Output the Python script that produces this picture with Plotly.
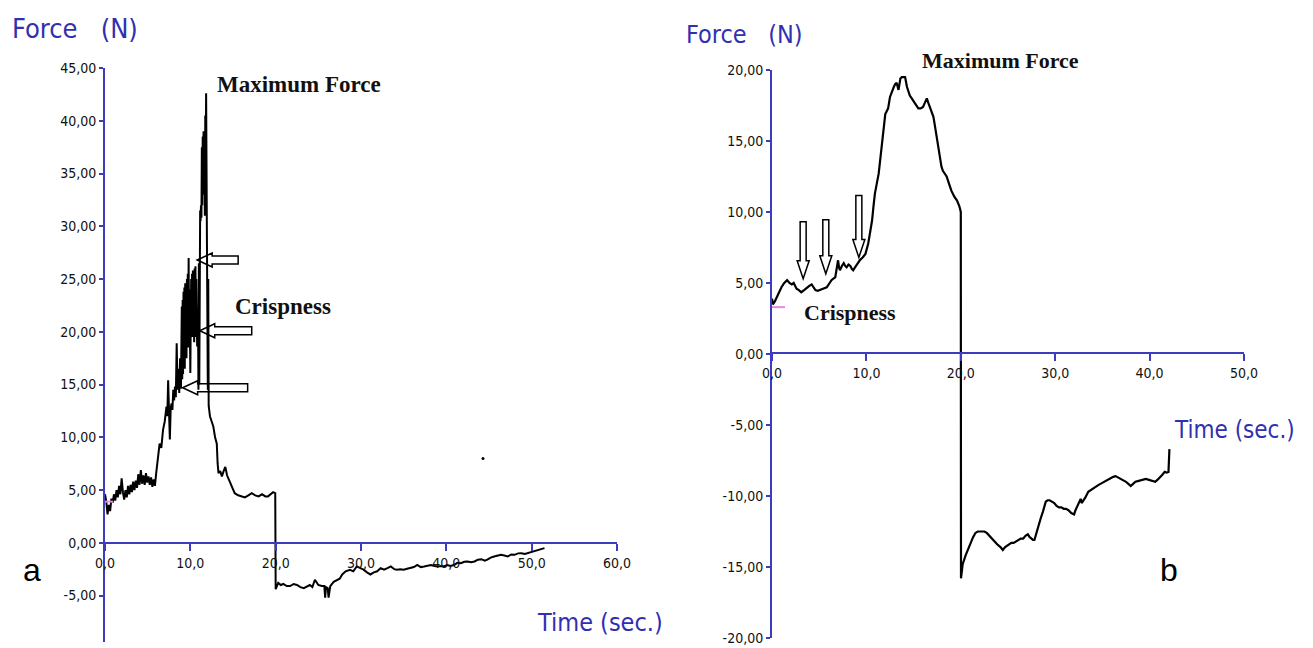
import plotly.graph_objects as go

# ---------------- data ----------------
left_time = [0.0,0.15,0.3,0.45,0.6,0.75,0.9,1.05,1.2,1.35,1.5,1.65,1.8,1.95,2.1,2.25,2.4,2.55,2.7,2.85,
             3.0,3.15,3.3,3.45,3.6,3.75,3.9,4.05,4.2,4.35,4.5,4.65,4.8,4.95,5.1,5.25,5.4,5.55,5.7,5.85,
             6.0,6.2,6.4,6.6,6.8,7.0,7.2,7.3,7.4,7.5,7.6,7.7,7.8,7.9,8.0,8.1,8.2,8.3,8.4,8.5,8.6,8.7,8.8,8.9,
             9.0,9.05,9.1,9.15,9.2,9.25,9.3,9.35,9.4,9.45,9.5,9.55,9.6,9.65,9.7,9.75,9.8,9.85,9.9,9.95,
             10.0,10.05,10.1,10.15,10.2,10.25,10.3,10.35,10.4,10.45,10.5,10.55,10.6,10.65,10.7,10.8,10.9,10.95,
             11.0,11.05,11.1,11.15,11.2,11.25,11.3,11.35,11.4,11.45,11.5,11.55,11.6,11.65,11.7,11.75,11.8,11.85,
             11.9,11.95,12.05,12.1,12.15,12.3,12.5,12.7,12.9,13.1,13.2,13.3,13.5,13.7,13.9,14.1,14.3,14.5,14.7,14.9,
             15.2,15.6,16.0,16.4,16.8,17.2,17.6,18.0,18.4,18.8,19.1,19.4,19.7,19.95,
             20.0,20.3,20.6,20.9,21.3,21.7,22.1,22.5,22.9,23.3,23.7,24.0,24.3,24.6,25.0,25.4,25.7,25.8,25.9,26.1,
             26.2,26.3,26.4,26.8,27.2,27.5,27.8,28.2,28.7,29.1,29.5,29.9,30.3,30.7,31.1,31.5,31.9,32.3,32.7,33.1,
             33.5,33.9,34.2,34.6,35.0,35.4,35.8,36.2,36.6,37.0,37.4,37.8,38.2,38.6,39.0,39.4,39.7,40.1,40.5,40.9,
             41.3,41.7,42.1,42.5,42.9,43.3,43.7,44.1,44.5,44.8,45.2,45.6,46.0,46.4,46.8,47.2,47.6,48.0,48.4,48.8,
             49.2,49.5,49.9,50.3,50.6,50.9,51.2,51.5]
left_force = [4.6,3.9,2.7,3.6,3.0,4.2,3.8,4.6,4.0,5.0,4.3,5.4,4.6,6.1,4.8,4.1,5.0,4.3,5.4,4.6,
              5.5,4.8,5.8,5.0,5.9,5.2,6.5,5.5,6.9,5.6,6.4,5.5,6.6,5.7,6.3,5.5,6.2,5.3,6.0,5.4,
              6.6,7.8,9.4,9.0,10.7,11.5,12.9,12.0,15.4,12.5,9.8,12.8,13.2,12.6,14.5,13.5,14.8,13.8,18.9,14.5,16.5,14.2,17.5,14.6,
              22.4,15.5,23.0,16.0,23.8,17.0,24.2,16.5,24.6,18.0,23.5,17.5,25.0,19.0,25.5,18.5,27.0,19.5,24.0,20.0,
              16.1,21.0,25.0,20.0,25.5,19.5,25.8,20.5,25.5,19.0,26.0,20.0,26.2,19.5,25.0,18.6,22.0,14.5,
              26.5,15.0,29.0,31.5,30.5,32.0,30.8,37.5,32.0,38.5,33.0,39.0,34.0,39.0,31.0,40.5,35.0,42.6,
              30.0,28.0,14.5,25.0,13.0,12.0,11.5,11.0,10.0,9.4,7.5,6.6,6.8,6.3,6.8,7.2,6.4,6.0,5.6,5.2,
              4.7,4.5,4.4,4.3,4.5,4.7,4.5,4.4,4.6,4.4,4.4,4.6,4.8,4.7,
              -4.4,-3.8,-4.0,-3.9,-4.1,-4.1,-3.9,-4.0,-4.2,-4.3,-4.1,-4.0,-4.2,-3.5,-4.0,-4.1,-4.1,-5.2,-4.2,-4.3,
              -5.2,-4.4,-4.1,-3.7,-3.5,-3.4,-3.0,-2.7,-2.55,-2.7,-2.24,-2.4,-2.55,-2.8,-3.0,-2.8,-2.7,-2.4,-2.55,-2.4,
              -2.24,-2.5,-2.55,-2.5,-2.55,-2.45,-2.4,-2.3,-2.1,-2.3,-2.24,-2.2,-2.1,-2.2,-2.24,-2.2,-2.24,-2.1,-2.2,-2.1,
              -1.9,-1.93,-1.8,-1.77,-1.85,-1.77,-1.6,-1.55,-1.7,-1.6,-1.4,-1.3,-1.25,-1.14,-1.2,-1.3,-1.1,-1.14,-1.0,-0.98,
              -1.05,-0.98,-0.9,-0.82,-0.7,-0.66,-0.55,-0.5]

right_time = [0.0,0.1,0.3,0.5,0.75,1.0,1.3,1.6,1.85,2.1,2.3,2.6,2.85,3.1,3.4,3.7,3.95,4.2,4.4,4.6,4.85,
              5.1,5.4,5.8,6.05,6.3,6.5,6.7,6.85,7.0,7.1,7.2,7.4,7.6,7.75,7.9,8.1,8.3,8.45,8.6,8.9,9.1,9.3,
              9.6,9.9,10.2,10.4,10.6,10.75,10.9,11.1,11.3,11.45,11.6,11.8,12.0,12.15,12.3,12.5,12.7,12.9,13.05,
              13.2,13.4,13.6,13.75,14.1,14.3,14.45,14.6,14.8,15.0,15.25,15.5,15.75,16.0,16.2,16.4,16.55,16.7,
              16.9,17.1,17.25,17.4,17.6,17.8,17.95,18.1,18.3,18.5,18.75,19.0,19.3,19.6,19.85,20.0,
              20.02,20.2,20.5,20.8,21.05,21.3,21.55,21.8,22.15,22.5,22.75,23.0,23.25,23.5,23.85,24.2,24.45,
              24.7,24.9,25.1,25.35,25.6,25.85,26.1,26.35,26.6,26.85,27.1,27.3,27.5,27.65,27.8,28.0,28.2,28.45,
              28.7,28.85,29.0,29.2,29.4,29.65,29.9,30.15,30.4,30.65,30.9,31.15,31.4,31.7,32.0,32.15,32.3,32.5,
              32.7,32.8,33.0,33.2,33.5,33.7,33.9,34.15,34.4,34.65,34.9,35.15,35.4,35.65,35.9,36.15,36.4,36.7,
              37.0,37.25,37.5,37.75,38.0,38.25,38.5,38.75,39.0,39.3,39.6,39.85,40.1,40.35,40.6,40.85,41.1,
              41.35,41.6,41.8,42.0,42.1]
right_force = [3.9,3.5,3.7,4.0,4.4,4.7,5.0,5.2,5.0,4.9,5.0,4.6,4.5,4.35,4.5,4.7,4.8,4.9,4.7,4.5,4.45,
               4.5,4.6,4.7,5.0,5.2,5.3,5.4,6.0,6.6,6.1,5.9,6.2,6.4,6.2,6.1,6.3,6.2,6.0,5.9,6.2,6.4,6.6,
               6.8,7.05,7.8,8.6,9.4,10.4,11.3,12.0,12.7,13.6,14.4,15.8,16.9,17.1,17.3,18.1,18.5,18.8,19.0,
               19.1,18.6,19.4,19.5,19.5,18.8,18.5,18.2,18.0,17.8,17.5,17.3,17.3,17.4,17.7,18.0,17.7,17.4,
               17.0,16.7,16.1,15.5,14.5,13.6,13.2,12.9,12.7,12.5,12.0,11.5,11.1,10.8,10.4,10.0,
               -15.8,-14.8,-14.2,-13.7,-13.3,-12.9,-12.6,-12.5,-12.5,-12.5,-12.6,-12.8,-13.0,-13.2,-13.4,-13.6,-13.8,
               -13.6,-13.5,-13.4,-13.3,-13.3,-13.2,-13.1,-13.0,-13.0,-12.8,-12.7,-12.9,-13.0,-13.1,-13.1,-12.6,-12.2,-11.6,
               -11.1,-10.8,-10.4,-10.3,-10.3,-10.4,-10.5,-10.7,-10.8,-10.8,-10.9,-10.9,-11.0,-11.2,-11.3,-11.0,-10.8,-10.5,
               -10.2,-10.5,-10.3,-10.1,-9.7,-9.6,-9.5,-9.4,-9.3,-9.2,-9.1,-9.0,-8.9,-8.8,-8.7,-8.65,-8.6,-8.7,
               -8.8,-8.9,-9.0,-9.15,-9.3,-9.15,-9.0,-8.95,-8.9,-8.85,-8.8,-8.85,-8.9,-8.95,-9.0,-8.85,-8.7,
               -8.5,-8.3,-8.35,-8.3,-6.7]

left_x_ticks = [0, 10, 20, 30, 40, 50, 60]
left_y_ticks = [-5, 0, 5, 10, 15, 20, 25, 30, 35, 40, 45]
right_x_ticks = [0, 10, 20, 30, 40, 50]
right_y_ticks = [-20, -15, -10, -5, 0, 5, 10, 15, 20]

# arrow tips (time, force)
left_arrow_t = [10.8, 11.1, 9.1]
left_arrow_f = [26.8, 20.1, 14.7]
right_arrow_t = [3.3, 5.7, 9.2]
right_arrow_f = [5.3, 5.65, 6.8]

# stray dot
stray_t = [44.3]
stray_f = [8.0]

# ---------------- styles ----------------
W, H = 1313, 648
BLUE_AX = "#3c3cbf"
BLUE_TX = "#3030b0"
TICK_FONT = dict(family="DejaVu Sans Condensed, Liberation Sans Narrow, DejaVu Sans, sans-serif",
                 size=14, color="#111111")
TITLE_FONT = "DejaVu Sans Condensed, Liberation Sans Narrow, DejaVu Sans, sans-serif"
ANN_FONT = "Liberation Serif, Times New Roman, serif"


def fmt(v, d):
    return f"{v:.{d}f}".replace(".", ",")


def px(x):
    return x / W


def py(y):
    return (H - y) / H


fig = go.Figure()

fig.add_trace(go.Scatter(x=left_time, y=left_force, mode="lines",
                         line=dict(color="black", width=2), xaxis="x", yaxis="y",
                         showlegend=False, hoverinfo="skip"))
fig.add_trace(go.Scatter(x=stray_t, y=stray_f, mode="markers",
                         marker=dict(color="black", size=3), xaxis="x", yaxis="y",
                         showlegend=False, hoverinfo="skip"))
fig.add_trace(go.Scatter(x=right_time, y=right_force, mode="lines",
                         line=dict(color="black", width=2.2), xaxis="x2", yaxis="y2",
                         showlegend=False, hoverinfo="skip"))

common_x = dict(showgrid=False, zeroline=False, showline=True, linecolor=BLUE_AX, linewidth=2,
                ticks="outside", ticklen=7, tickwidth=2, tickcolor=BLUE_AX, tickfont=TICK_FONT,
                anchor="free", fixedrange=True, automargin=False)
common_y = dict(showgrid=False, zeroline=False, showline=True, linecolor=BLUE_AX, linewidth=2,
                ticks="outside", ticklen=4, tickwidth=2, tickcolor=BLUE_AX, tickfont=TICK_FONT,
                fixedrange=True, automargin=False)

fig.update_layout(
    width=W, height=H,
    margin=dict(l=0, r=0, t=0, b=0, autoexpand=False),
    paper_bgcolor="white", plot_bgcolor="white",
    showlegend=False,
    xaxis=dict(domain=[px(105), px(617)], range=[0, 60], position=py(543),
               tickvals=left_x_ticks, ticktext=[fmt(v, 1) for v in left_x_ticks], **common_x),
    yaxis=dict(domain=[py(642), py(68)], range=[-9.4, 45], anchor="x",
               tickvals=left_y_ticks, ticktext=[fmt(v, 2) for v in left_y_ticks], **common_y),
    xaxis2=dict(domain=[px(772), px(1244)], range=[0, 50], position=py(353.3),
                tickvals=right_x_ticks, ticktext=[fmt(v, 1) for v in right_x_ticks], **common_x),
    yaxis2=dict(domain=[py(638), py(70)], range=[-20, 20], anchor="x2",
                tickvals=right_y_ticks, ticktext=[fmt(v, 2) for v in right_y_ticks], **common_y),
)

NB = "\u00a0"
texts = [
    # axis titles
    dict(text=f"Force{NB*3}(N)", x=px(10), y=py(29), xanchor="left", yanchor="middle",
         font=dict(family=TITLE_FONT, size=27, color=BLUE_TX)),
    dict(text=f"Force{NB*3}(N)", x=px(684), y=py(34), xanchor="left", yanchor="middle",
         font=dict(family=TITLE_FONT, size=25, color=BLUE_TX)),
    dict(text="Time (sec.)", x=px(665), y=py(622), xanchor="right", yanchor="middle",
         font=dict(family=TITLE_FONT, size=25, color=BLUE_TX)),
    dict(text="Time (sec.)", x=px(1297), y=py(430), xanchor="right", yanchor="middle",
         font=dict(family=TITLE_FONT, size=24, color=BLUE_TX)),
    # annotations
    dict(text="<b>Maximum Force</b>", x=px(299), y=py(84), xanchor="center", yanchor="middle",
         font=dict(family=ANN_FONT, size=23, color="#111111")),
    dict(text="<b>Maximum Force</b>", x=px(1000), y=py(61), xanchor="center", yanchor="middle",
         font=dict(family=ANN_FONT, size=22, color="#111111")),
    dict(text="<b>Crispness</b>", x=px(283), y=py(306), xanchor="center", yanchor="middle",
         font=dict(family=ANN_FONT, size=23, color="#111111")),
    dict(text="<b>Crispness</b>", x=px(850), y=py(312), xanchor="center", yanchor="middle",
         font=dict(family=ANN_FONT, size=22, color="#111111")),
    # panel letters
    dict(text="a", x=px(32), y=py(570), xanchor="center", yanchor="middle",
         font=dict(family="Liberation Sans, Arial, sans-serif", size=32, color="black")),
    dict(text="b", x=px(1169), y=py(570), xanchor="center", yanchor="middle",
         font=dict(family="Liberation Sans, Arial, sans-serif", size=32, color="black")),
]
for t in texts:
    fig.add_annotation(xref="paper", yref="paper", showarrow=False, **t)


# hollow block arrows (pixel-sized, anchored at data tips)
def left_arrow(L, h=15, hw=7, sw=4):
    return f"M0,0 L{h},{hw} L{h},{sw} L{L},{sw} L{L},{-sw} L{h},{-sw} L{h},{-hw} Z"


def down_arrow(L, h=18, hw=6, sw=3):
    return f"M0,0 L{hw},{h} L{sw},{h} L{sw},{L} L{-sw},{L} L{-sw},{h} L{-hw},{h} Z"


for t, f, L in zip(left_arrow_t, left_arrow_f, [41, 52, 65]):
    fig.add_shape(type="path", path=left_arrow(L), xref="x", yref="y",
                  xsizemode="pixel", ysizemode="pixel", xanchor=t, yanchor=f,
                  line=dict(color="black", width=1.5), fillcolor="white", layer="below")
for t, f, L in zip(right_arrow_t, right_arrow_f, [57, 54, 62]):
    fig.add_shape(type="path", path=down_arrow(L), xref="x2", yref="y2",
                  xsizemode="pixel", ysizemode="pixel", xanchor=t, yanchor=f,
                  line=dict(color="black", width=1.5), fillcolor="white", layer="below")

# small magenta baseline marks at the start force
fig.add_shape(type="line", xref="x", yref="y", xsizemode="pixel", xanchor=0,
              x0=-7, x1=8, y0=3.9, y1=3.9, line=dict(color="#e38be3", width=2))
fig.add_shape(type="line", xref="x2", yref="y2", xsizemode="pixel", xanchor=0,
              x0=-5, x1=13, y0=3.3, y1=3.3, line=dict(color="#e38be3", width=2))

fig.write_html("out.html", config={"displayModeBar": False},
               post_script="document.body.style.margin='0';document.body.style.padding='0';")
